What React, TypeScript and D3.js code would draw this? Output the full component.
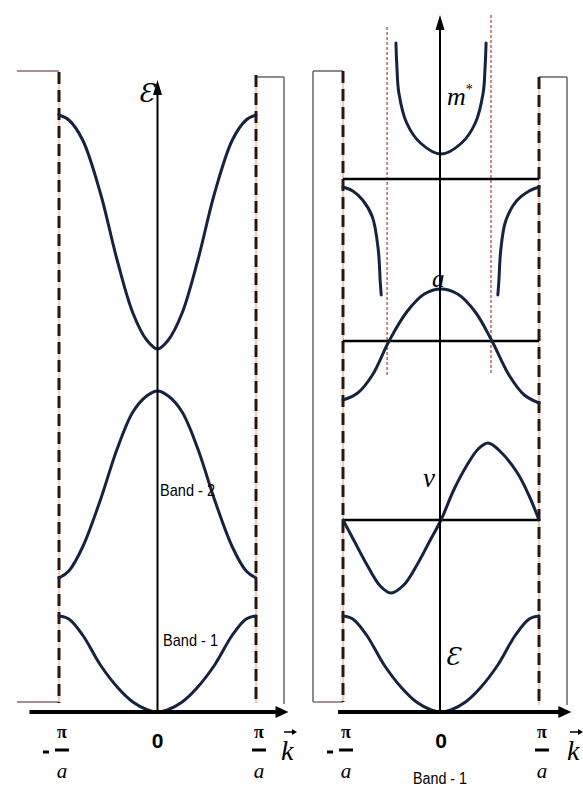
import React, { useEffect, useRef } from 'react';
import * as d3 from 'd3';

// k is in units of pi/a, curve values are heights above the k axis
const kTicks = [-1, 0, 1];
const tickLabels = ['-', '0', '+'];

const band1 = [
  [-1, 96], [-0.9, 93], [-0.76, 77], [-0.58, 47], [-0.4, 24], [-0.25, 10], [-0.1, 2], [0, 0],
  [0.1, 2], [0.25, 10], [0.4, 24], [0.58, 47], [0.76, 77], [0.9, 93], [1, 96],
];
const band2 = [
  [-1, 134], [-0.9, 141], [-0.76, 165], [-0.58, 212], [-0.41, 263], [-0.25, 300], [-0.11, 316], [0, 321],
  [0.11, 316], [0.25, 300], [0.41, 263], [0.58, 212], [0.76, 165], [0.9, 141], [1, 134],
];
const band3 = [
  [-1, 597], [-0.9, 592], [-0.76, 572], [-0.58, 519], [-0.41, 452], [-0.25, 399], [-0.11, 372], [0, 363],
  [0.11, 372], [0.25, 399], [0.41, 452], [0.58, 519], [0.76, 572], [0.9, 592], [1, 597],
];

const velocity = [
  [-1, 192], [-0.88, 170], [-0.76, 148], [-0.62, 126], [-0.51, 119], [-0.38, 127], [-0.24, 148], [-0.12, 170], [0, 192],
  [0.13, 222], [0.26, 246], [0.38, 263], [0.48, 269], [0.6, 261], [0.78, 239], [0.9, 216], [1, 192],
];
const accel = [
  [-1, 312], [-0.85, 319], [-0.7, 337], [-0.53, 371], [-0.35, 400], [-0.17, 418], [0, 423],
  [0.17, 418], [0.35, 400], [0.52, 371], [0.7, 336], [0.85, 317], [1, 309],
];
const massTop = [
  [-0.46, 669], [-0.45, 645], [-0.43, 619], [-0.35, 589], [-0.21, 569], [0, 558],
  [0.21, 569], [0.35, 589], [0.43, 619], [0.45, 645], [0.46, 669],
];
const massLeft = [[-1, 525], [-0.9, 521], [-0.8, 512], [-0.7, 495], [-0.64, 462], [-0.62, 430], [-0.61, 417]];
const massRight = [[1, 525], [0.9, 521], [0.77, 511], [0.66, 491], [0.61, 462], [0.59, 430], [0.58, 417]];

const zeroLines = [533, 371, 192]; // m*, a, v reference lines
const asymptotes = [[-0.55, 685], [0.51, 697]]; // k, top height

export default function App() {
  const ref = useRef<SVGSVGElement>(null);

  useEffect(() => {
    const svg = d3.select(ref.current);
    svg.selectAll('*').remove();

    const y = d3.scaleLinear().domain([0, 640]).range([712, 72]);
    const xL = d3.scaleLinear().domain([-1, 1]).range([59, 256]);
    const xR = d3.scaleLinear().domain([-1, 1]).range([343, 539]);

    const curveColor = '#16233f';
    const serif = '"Liberation Serif", "DejaVu Serif", serif';
    const sans = '"Liberation Sans", Arial, sans-serif';

    const drawCurve = (x, data, width = 3, color = curveColor) => {
      const gen = d3.line()
        .x((d) => x(d[0]))
        .y((d) => y(d[1]))
        .curve(d3.curveCatmullRom.alpha(0.5));
      svg.append('path')
        .attr('d', gen(data))
        .attr('fill', 'none')
        .attr('stroke', color)
        .attr('stroke-width', width)
        .attr('stroke-linecap', 'round');
    };

    const seg = (x1, y1, x2, y2, color, w, dash?) => {
      const l = svg.append('line')
        .attr('x1', x1).attr('y1', y1).attr('x2', x2).attr('y2', y2)
        .attr('stroke', color).attr('stroke-width', w);
      if (dash) l.attr('stroke-dasharray', dash);
      return l;
    };

    const dashed = (xp, top, bottom) => {
      seg(xp, y(top), xp, y(bottom), '#e49a63', 1);
      seg(xp, y(top), xp, y(bottom), '#2e140b', 3, '12 6');
    };

    const arrowRight = (xt, yt) => {
      svg.append('path')
        .attr('d', `M${xt},${yt} L${xt - 13},${yt - 6} L${xt - 13},${yt + 6} Z`)
        .attr('fill', '#000');
    };
    const arrowUp = (xt, yt) => {
      svg.append('path')
        .attr('d', `M${xt},${yt} L${xt - 4.5},${yt + 15} L${xt + 4.5},${yt + 15} Z`)
        .attr('fill', '#000');
    };

    const text = (x, yy, t, size, family, opts = {}) => {
      const el = svg.append('text')
        .attr('x', x).attr('y', yy)
        .attr('font-size', size)
        .attr('font-family', family)
        .attr('text-anchor', opts.anchor || 'start')
        .attr('font-style', opts.italic ? 'italic' : 'normal')
        .attr('font-weight', opts.bold ? 'bold' : 'normal')
        .attr('fill', '#000')
        .text(t);
      if (opts.len) el.attr('textLength', opts.len).attr('lengthAdjust', 'spacingAndGlyphs');
      return el;
    };

    const tickLabel = (x, k, lab) => {
      const cx = x(k) + 3;
      if (lab === '0') {
        text(x(k), 748, '0', 21, sans, { anchor: 'middle', bold: true });
        return;
      }
      text(cx, 738, 'π', 18, serif, { anchor: 'middle', bold: true });
      seg(cx - 7, 750, cx + 7, 750, '#000', 3);
      text(cx, 778, 'a', 21, serif, { anchor: 'middle', italic: true });
      if (lab === '-') seg(cx - 19, 752, cx - 13, 752, '#000', 3);
    };

    const kLabel = (xk) => {
      text(xk, 760, 'k', 28, serif, { italic: true });
      seg(xk + 3, 732, xk + 13, 732, '#000', 1.5);
      svg.append('path')
        .attr('d', `M${xk + 16},${732} L${xk + 11},${729} L${xk + 11},${735} Z`)
        .attr('fill', '#000');
    };

    // ---------- left panel ----------
    seg(17, y(641), xL(-1), y(641), '#8a6a74', 1.5);
    seg(17, y(10), xL(-1), y(10), '#8a6a74', 1.5);
    seg(xL(1), y(635), 284, y(635), '#666', 1.5);
    seg(284, y(635), 284, y(8), '#666', 1.5);
    dashed(xL(-1), 640, 9);
    dashed(xL(1), 637, 9);

    drawCurve(xL, band3);
    drawCurve(xL, band2);
    drawCurve(xL, band1);

    seg(xL(0), y(0), xL(0), y(632) + 12, '#000', 2);
    arrowUp(xL(0), y(632));
    seg(xL(-1.3), y(0), xL(1.33) - 10, y(0), '#000', 4);
    arrowRight(xL(1.33), y(0));

    text(138, 102, 'Ɛ', 26, '"DejaVu Serif", serif', { italic: true });
    text(160, 496, 'Band - 2', 17, sans, { len: 55 });
    text(163, 646, 'Band - 1', 17, sans, { len: 55 });
    kTicks.forEach((k, i) => tickLabel(xL, k, tickLabels[i]));
    kLabel(281);

    // ---------- right panel ----------
    seg(313, y(641), xR(-1), y(641), '#666', 1.5);
    seg(313, y(641), 313, y(10), '#666', 1.5);
    seg(313, y(10), xR(-1), y(10), '#8a6a74', 1.5);
    seg(xR(1), y(635), 567, y(635), '#666', 1.5);
    seg(567, y(635), 567, y(7), '#666', 1.5);
    dashed(xR(-1), 641, 10);
    dashed(xR(1), 635, 7);

    asymptotes.forEach(([k, top]) => {
      seg(xR(k), y(top), xR(k), y(337), '#a4412f', 1.2, '3 2');
    });

    zeroLines.forEach((v) => seg(xR(-1), y(v), xR(1), y(v), '#000', 2.5));

    drawCurve(xR, massTop);
    drawCurve(xR, massLeft);
    drawCurve(xR, massRight);
    drawCurve(xR, accel);
    drawCurve(xR, velocity);
    drawCurve(xR, band1);

    seg(440, y(0), 440, y(697) + 12, '#000', 2);
    arrowUp(440, y(697));
    seg(xR(-1.05), y(0), xR(1.33) - 10, y(0), '#000', 4);
    arrowRight(xR(1.33), y(0));

    const m = text(447, 105, 'm', 26, serif, { italic: true });
    m.append('tspan').attr('dy', -11).attr('font-size', 14).attr('font-style', 'normal').text('*');
    text(432, 287, 'a', 25, serif, { italic: true });
    text(423, 487, 'v', 27, serif, { italic: true });
    text(445, 665, 'Ɛ', 24, '"DejaVu Serif", serif', { italic: true });
    text(440, 784, 'Band - 1', 16, sans, { anchor: 'middle', len: 54 });
    kTicks.forEach((k, i) => tickLabel(xR, k, tickLabels[i]));
    kLabel(567);
  }, []);

  return (
    <svg
      ref={ref}
      width={583}
      height={789}
      style={{ position: 'absolute', left: 0, top: 0, background: '#fff' }}
    />
  );
}
